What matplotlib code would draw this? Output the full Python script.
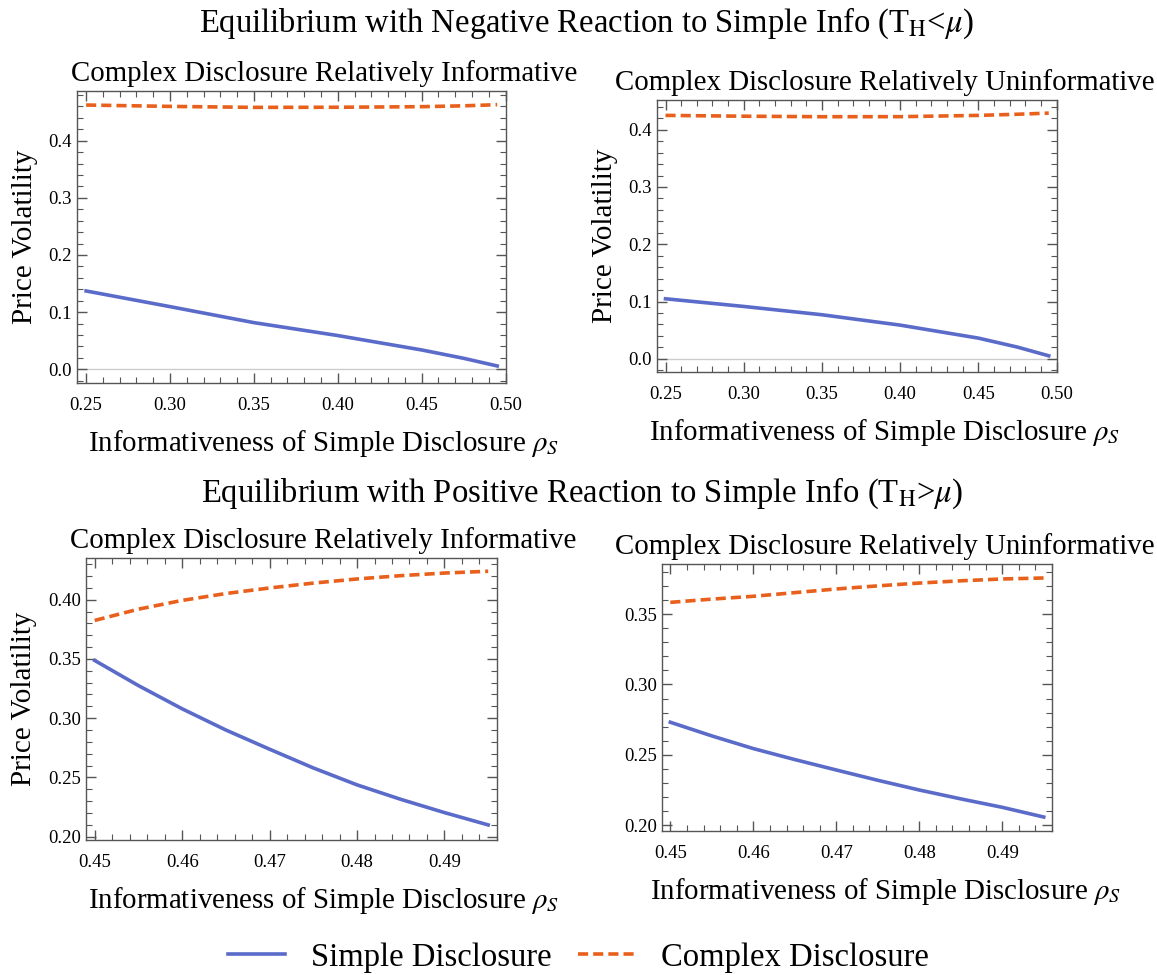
import matplotlib.pyplot as plt
from matplotlib.ticker import MultipleLocator

plt.rcParams['font.family'] = ['Liberation Serif', 'DejaVu Serif']
plt.rcParams['mathtext.fontset'] = 'stix'

# top row: negative reaction
x_top = [0.25, 0.30, 0.35, 0.40, 0.45, 0.475, 0.495]
simple_inf_top = [0.137, 0.1096, 0.0816, 0.059, 0.0338, 0.0192, 0.0058]
complex_inf_top = [0.4624, 0.4600, 0.4583, 0.4585, 0.4595, 0.4610, 0.463]
simple_uninf_top = [0.1048, 0.0914, 0.0769, 0.0588, 0.0361, 0.0204, 0.0052]
complex_uninf_top = [0.425, 0.4236, 0.4227, 0.4228, 0.425, 0.427, 0.429]

# bottom row: positive reaction
x_bot = [0.45, 0.455, 0.46, 0.465, 0.47, 0.475, 0.48, 0.485, 0.49, 0.495]
simple_inf_bot = [0.3487, 0.3275, 0.3079, 0.2900, 0.2738, 0.2580, 0.2437, 0.2315, 0.2203, 0.2099]
complex_inf_bot = [0.3825, 0.3920, 0.3994, 0.4052, 0.4099, 0.4140, 0.4175, 0.4203, 0.4225, 0.4240]
simple_uninf_bot = [0.2732, 0.2635, 0.2545, 0.2467, 0.2393, 0.2320, 0.2251, 0.2188, 0.2128, 0.2059]
complex_uninf_bot = [0.3583, 0.3606, 0.3626, 0.3652, 0.3678, 0.3700, 0.3720, 0.3736, 0.3749, 0.3756]

blue = '#5b6bc9'
orange = '#e8601c'
frame = '#555555'

fig = plt.figure(figsize=(11.57, 9.75), dpi=100)

panels = [
    ([0.0666, 0.6072, 0.3708, 0.2995], x_top, simple_inf_top, complex_inf_top,
     'Complex Disclosure Relatively Informative', (0.2446, 0.5003), (-0.024, 0.487), 0.05, 0.01, 0.1, 0.02, True, True, 0.575),
    ([0.5679, 0.6185, 0.3457, 0.2790], x_top, simple_uninf_top, complex_uninf_top,
     'Complex Disclosure Relatively Uninformative', (0.2446, 0.5003), (-0.023, 0.452), 0.05, 0.01, 0.1, 0.02, True, True, 0.57),
    ([0.0743, 0.1385, 0.3552, 0.2892], x_bot, simple_inf_bot, complex_inf_bot,
     'Complex Disclosure Relatively Informative', (0.4490, 0.4960), (0.1972, 0.4352), 0.01, 0.002, 0.05, 0.01, False, True, 0.578),
    ([0.5722, 0.1477, 0.3371, 0.2738], x_bot, simple_uninf_bot, complex_uninf_bot,
     'Complex Disclosure Relatively Uninformative', (0.4490, 0.4960), (0.196, 0.3855), 0.01, 0.002, 0.05, 0.01, False, False, 0.572),
]

for rect, xs, s, c, title, xl, yl, xmaj, xmin, ymaj, ymin, zero, ylab, tx in panels:
    ax = fig.add_axes(rect)
    if zero:
        ax.axhline(0, color='#cccccc', lw=1.0, zorder=1)
    ax.plot(xs, s, color=blue, lw=2.6, label='Simple Disclosure', zorder=3)
    ax.plot(xs, c, color=orange, lw=2.6, dashes=(2.8, 1.4), label='Complex Disclosure', zorder=3)
    ax.set_xlim(*xl)
    ax.set_ylim(*yl)
    ax.xaxis.set_major_locator(MultipleLocator(xmaj))
    ax.xaxis.set_minor_locator(MultipleLocator(xmin))
    ax.yaxis.set_major_locator(MultipleLocator(ymaj))
    ax.yaxis.set_minor_locator(MultipleLocator(ymin))
    if xmaj == 0.05:
        ax.xaxis.set_major_formatter(lambda v, p: f'{v:.2f}')
        ax.yaxis.set_major_formatter(lambda v, p: f'{v:.1f}')
    else:
        ax.xaxis.set_major_formatter(lambda v, p: f'{v:.2f}')
        ax.yaxis.set_major_formatter(lambda v, p: f'{v:.2f}')
    ax.tick_params(which='both', direction='in', top=True, right=True, color=frame, labelsize=13.5)
    ax.tick_params(which='major', length=7, width=1.0)
    ax.tick_params(which='minor', length=4, width=0.8)
    ax.tick_params(axis='x', pad=10)
    for sp in ax.spines.values():
        sp.set_color(frame)
        sp.set_linewidth(1.0)
    ax.set_title(title, fontsize=20.8, pad=7, x=tx)
    ax.set_xlabel(r'Informativeness of Simple Disclosure $\rho_S$', fontsize=20.8, labelpad=10)
    ax.xaxis.label.set_x(tx)
    if ylab:
        ax.set_ylabel('Price Volatility', fontsize=21, labelpad=8)

fig.text(0.507, 0.976, r'Equilibrium with Negative Reaction to Simple Info (T$_\mathrm{H}$<$\mu$)',
         ha='center', va='center', fontsize=23.5)
fig.text(0.503, 0.494, r'Equilibrium with Positive Reaction to Simple Info (T$_\mathrm{H}$>$\mu$)',
         ha='center', va='center', fontsize=23.5)

handles, labels = ax.get_legend_handles_labels()
fig.legend(handles, labels, loc='center', bbox_to_anchor=(0.5, 0.018), ncol=2, frameon=False,
           fontsize=23.5, handlelength=1.75, columnspacing=0.8, handletextpad=0.8)

fig.savefig('out.png', dpi=100)
